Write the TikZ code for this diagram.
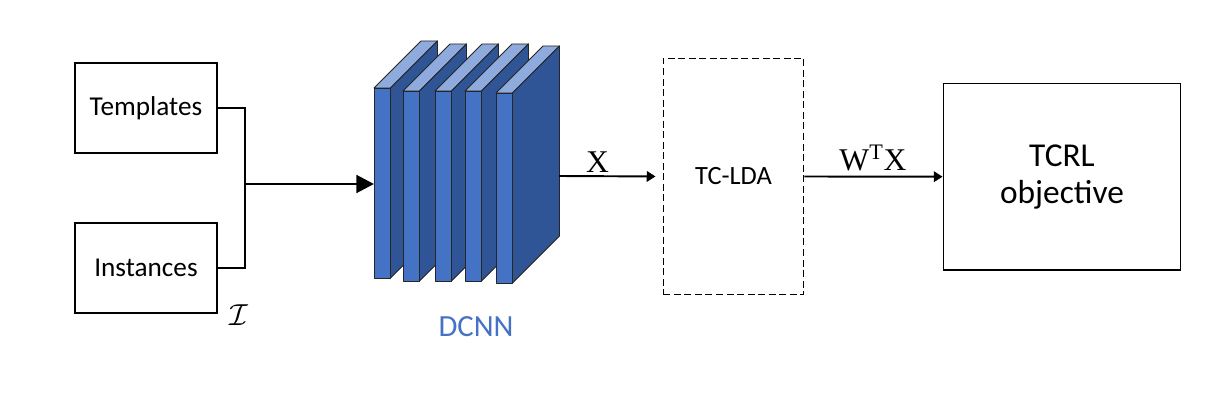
\documentclass[tikz,border=0pt]{standalone}
\usepackage{fontspec}
\setmainfont{Carlito}
\newfontfamily\timesfont{Liberation Serif}
\usetikzlibrary{arrows.meta}

\definecolor{cnnfront}{RGB}{68,114,196}
\definecolor{cnnside}{RGB}{47,85,151}
\definecolor{cnntop}{RGB}{143,170,220}

\tikzset{
  box/.style={draw, line width=0.8pt, align=center, inner sep=0pt,
    font=\fontsize{15.5}{18}\selectfont},
  layer/.style={draw=black!85, line width=0.5pt, line join=round},
  thickflow/.style={line width=1.7pt},
  thinflow/.style={-{Triangle[length=5pt,width=6pt]}, line width=1.1pt},
  maths/.style={font=\timesfont\fontsize{18}{18}\selectfont}
}

\begin{document}
\begin{tikzpicture}[x=0.02cm, y=-0.02cm]
      \useasboundingbox (0,0) rectangle (1228,402);
      %\draw [help lines] (0,0) grid [step=50] (1228,402);
      \node [box, minimum width=2.84cm, minimum height=1.8cm] (templates) at (146,108) {Templates};
      \node [box, minimum width=2.84cm, minimum height=1.8cm] (instances) at (146,268) {Instances};
      \node (setI) at (239,315) {\fontsize{16}{16}\selectfont$\mathcal{I}$};
      \coordinate (join) at (245,184);

      % DCNN layers
      \foreach \bx/\by in {374/88, 403/91, 435/91, 465/91, 496/93} {
        \draw [layer, fill=cnntop] (\bx,\by) -- ++(47,-47) -- ++(16.5,0) -- ++(-47,47) -- cycle;
        \draw [layer, fill=cnnside] (\bx+16.5,\by) -- ++(47,-47) -- ++(0,190) -- ++(-47,47) -- cycle;
        \draw [layer, fill=cnnfront] (\bx,\by) rectangle ++(16.5,190);
      }
      \coordinate (dcnnin) at (374,184);
      \coordinate (dcnnout) at (559,176);
      \node [font=\fontsize{17.5}{17.5}\selectfont, text=cnnfront] (dcnnlabel) at (476,327) {DCNN};

      \node [box, font=\fontsize{15}{18}\selectfont, dashed, dash pattern=on 4pt off 2pt, minimum width=2.81cm, minimum height=4.73cm] (tclda) at (733.5,176.5) {TC-LDA};
      \node [box, font=\fontsize{19}{21}\selectfont, minimum width=4.75cm, minimum height=3.73cm] (tcrl) at (1062,176.7) {TCRL\\objective};

      \draw [thickflow] (templates.east) -| (join) |- (instances.east);
      \draw [thickflow, -{Triangle[length=10pt,width=10pt]}] (join) -- (dcnnin);
      \draw [thinflow, shorten >=4pt] (dcnnout) -- (tclda.west);
      \node [maths] (xlabel) at (597.5,162) {X};
      \draw [thinflow] (tclda.east) -- (tcrl.west);
      \node [maths] (wxlabel) at (873,158) {W\textsuperscript{T}X};
\end{tikzpicture}
\end{document}
